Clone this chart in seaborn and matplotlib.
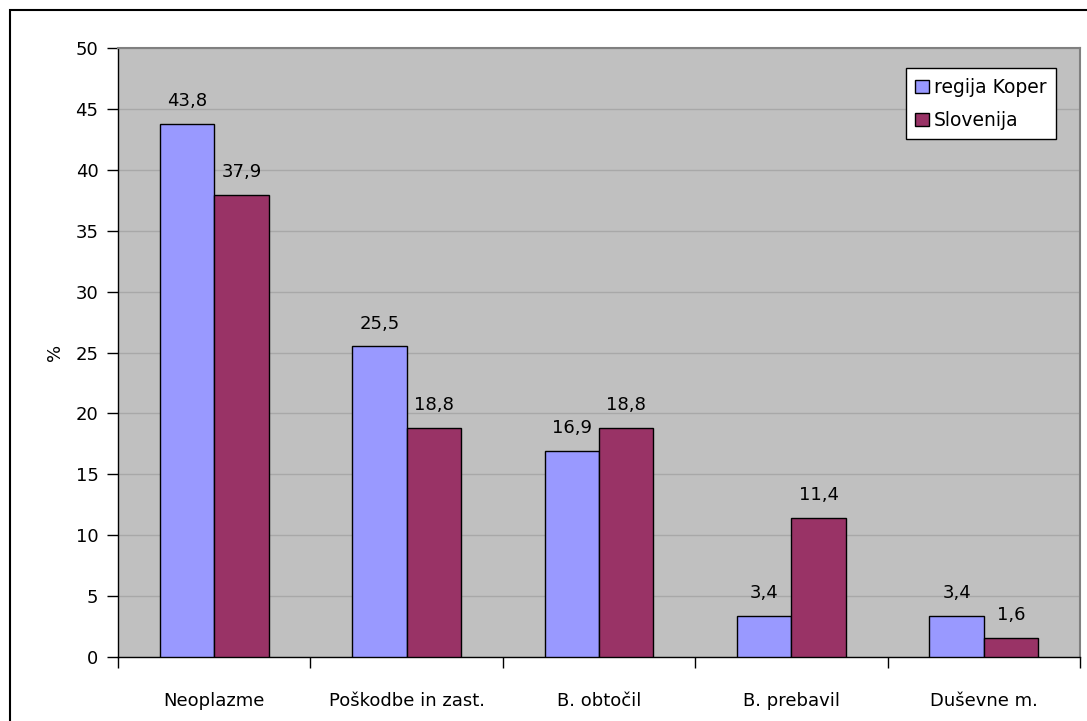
import matplotlib
matplotlib.use('Agg')
import matplotlib.pyplot as plt
import pandas as pd
import seaborn as sns
from matplotlib.patches import Rectangle

categories = ['Neoplazme', 'Poškodbe in zast.', 'B. obtočil', 'B. prebavil', 'Duševne m.']
koper = [43.8, 25.5, 16.9, 3.4, 3.4]
slovenija = [37.9, 18.8, 18.8, 11.4, 1.6]
series = ['regija Koper', 'Slovenija']

data = pd.DataFrame({
    'kategorija': categories * 2,
    'vrednost': koper + slovenija,
    'serija': [series[0]] * len(categories) + [series[1]] * len(categories),
})

sns.set_style('white')
plt.rcParams['font.family'] = ['DejaVu Sans']
plt.rcParams['text.color'] = 'black'
plt.rcParams['xtick.color'] = 'black'
plt.rcParams['ytick.color'] = 'black'
plt.rcParams['axes.labelcolor'] = 'black'

fig = plt.figure(figsize=(10.87, 7.21), dpi=100)
ax = fig.add_axes([118 / 1087, 1 - 657 / 721, (1080 - 118) / 1087, (657 - 48) / 721])

# outer chart border (image is cropped at right/bottom)
fig.patches.append(Rectangle((10 / 1087, -0.1), 1.2, 1 - 10 / 721 + 0.1,
                             transform=fig.transFigure, fill=False,
                             edgecolor='black', linewidth=1.5))

sns.barplot(data=data, x='kategorija', y='vrednost', hue='serija', order=categories,
            palette=['#9999FF', '#993366'], saturation=1, width=0.565, edgecolor='black',
            linewidth=1.0, ax=ax, zorder=3)

ax.set_facecolor('#C0C0C0')
ax.set_ylim(0, 50)
ax.set_xlim(-0.5, len(categories) - 0.5)
ax.set_yticks(range(0, 51, 5))
ax.yaxis.grid(True, color='#A8A8A8', linewidth=1.0, zorder=0)
ax.set_axisbelow(True)

for side in ['top', 'right']:
    ax.spines[side].set_color('#808080')
    ax.spines[side].set_linewidth(1.5)
for side in ['left', 'bottom']:
    ax.spines[side].set_color('black')
    ax.spines[side].set_linewidth(1.0)

ax.set_xlabel('')
ax.set_ylabel('%', fontsize=13, labelpad=8)
ax.tick_params(axis='y', direction='out', length=8, width=1, left=True, labelsize=13, pad=6)
ax.tick_params(axis='x', which='major', length=0, labelsize=13, pad=25)
ax.set_xticks([i - 0.5 for i in range(len(categories) + 1)], minor=True)
ax.tick_params(axis='x', which='minor', direction='out', length=8, width=1, bottom=True)

for cont in ax.containers:
    labels = [('%.1f' % v).replace('.', ',') for v in cont.datavalues]
    ax.bar_label(cont, labels=labels, padding=10, fontsize=13)

leg = ax.legend(loc='upper right', bbox_to_anchor=(0.985, 0.982), fontsize=13.5,
                frameon=True, fancybox=False, edgecolor='black', handlelength=0.7,
                handleheight=0.7, handletextpad=0.3, borderpad=0.5, labelspacing=0.75,
                framealpha=1)
leg.get_frame().set_linewidth(1.0)
leg.get_frame().set_facecolor('white')

fig.savefig('out.png', dpi=100, facecolor='white')
